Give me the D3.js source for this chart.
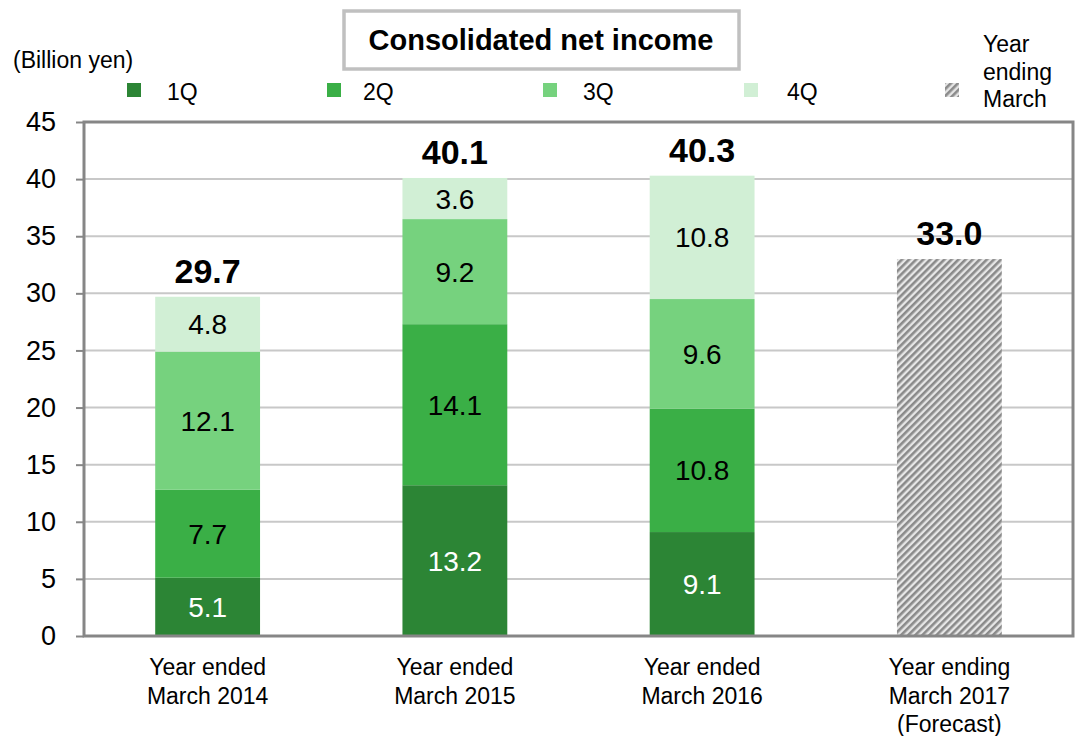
<!DOCTYPE html>
<html>
<head>
<meta charset="utf-8">
<script src="https://cdn.jsdelivr.net/npm/d3@7"></script>
<style>
  html, body { margin: 0; padding: 0; background: #fff; }
  svg { display: block; font-family: "Liberation Sans", Arial, sans-serif; }
</style>
</head>
<body>
<svg id="chart" width="1075" height="736"></svg>
<script>
// Fiscal years on the x axis (multi-line labels)
const years = ["Year ended|March 2014", "Year ended|March 2015", "Year ended|March 2016", "Year ending|March 2017|(Forecast)"];
const quarters = ["1Q", "2Q", "3Q", "4Q"];
// Quarterly net income (billion yen), for the three closed years
const q1 = [5.1, 13.2, 9.1];
const q2 = [7.7, 14.1, 10.8];
const q3 = [12.1, 9.2, 9.6];
const q4 = [4.8, 3.6, 10.8];
// Annual totals, the last one a forecast
const totals = [29.7, 40.1, 40.3, 33.0];
const yTicks = [0, 5, 10, 15, 20, 25, 30, 35, 40, 45];

const colors = ["#2c8535", "#3aaf46", "#76d27e", "#d1efd5"];
const labelColors = ["#ffffff", "#000000", "#000000", "#000000"];

const svg = d3.select("#chart");
const plot = { left: 84, right: 1073, top: 122, bottom: 636 };

const x = d3.scaleBand().domain(years).range([plot.left, plot.right]).paddingInner(0.576).paddingOuter(0.288);
const y = d3.scaleLinear().domain([0, 45]).range([plot.bottom, plot.top]);

// Hatch pattern for the forecast bar
const defs = svg.append("defs");
const pat = defs.append("pattern").attr("id", "hatch").attr("patternUnits", "userSpaceOnUse")
  .attr("width", 5).attr("height", 5).attr("patternTransform", "rotate(45)");
pat.append("rect").attr("width", 5).attr("height", 5).attr("fill", "#e6e6e6");
pat.append("rect").attr("width", 2.6).attr("height", 5).attr("fill", "#8a8a8a");

// Gridlines
svg.append("g").selectAll("line").data(yTicks.filter(d => d > 0 && d < 45)).join("line")
  .attr("x1", plot.left).attr("x2", plot.right)
  .attr("y1", d => y(d)).attr("y2", d => y(d))
  .attr("stroke", "#c8c8c8").attr("stroke-width", 2);

// Stacked quarter segments
const series = [q1, q2, q3, q4];
const stackData = years.slice(0, 3).map((yr, i) => {
  const o = { year: yr };
  quarters.forEach((q, k) => o[q] = series[k][i]);
  return o;
});
const stacked = d3.stack().keys(quarters)(stackData);

stacked.forEach((layer, k) => {
  const g = svg.append("g");
  g.selectAll("rect").data(layer).join("rect")
    .attr("x", d => x(d.data.year))
    .attr("width", x.bandwidth())
    .attr("y", d => y(d[1]))
    .attr("height", d => y(d[0]) - y(d[1]))
    .attr("fill", colors[k]);
  g.selectAll("text").data(layer).join("text")
    .attr("x", d => x(d.data.year) + x.bandwidth() / 2)
    .attr("y", d => (y(d[0]) + y(d[1])) / 2)
    .attr("dy", "0.36em")
    .attr("text-anchor", "middle")
    .attr("font-size", 28)
    .attr("fill", labelColors[k])
    .text(d => (d[1] - d[0]).toFixed(1));
});

// Forecast bar
svg.append("rect")
  .attr("x", x(years[3])).attr("width", x.bandwidth())
  .attr("y", y(totals[3])).attr("height", y(0) - y(totals[3]))
  .attr("fill", "url(#hatch)");

// Totals above bars
svg.append("g").selectAll("text").data(totals).join("text")
  .attr("x", (d, i) => x(years[i]) + x.bandwidth() / 2)
  .attr("y", d => y(d) - 14)
  .attr("text-anchor", "middle")
  .attr("font-size", 34).attr("font-weight", "bold")
  .text(d => d.toFixed(1));

// Plot frame
svg.append("rect")
  .attr("x", plot.left).attr("y", plot.top)
  .attr("width", plot.right - plot.left).attr("height", plot.bottom - plot.top)
  .attr("fill", "none").attr("stroke", "#868686").attr("stroke-width", 3);

// Y axis
const yAxis = svg.append("g").attr("transform", `translate(${plot.left},0)`)
  .call(d3.axisLeft(y).tickValues(yTicks).tickSize(8).tickPadding(20).tickFormat(d3.format("d")));
yAxis.select(".domain").remove();
yAxis.selectAll(".tick line").attr("stroke", "#868686").attr("stroke-width", 2);
yAxis.selectAll(".tick text").attr("font-size", 27).attr("fill", "#000")
  .attr("font-family", "Liberation Sans, Arial, sans-serif");

// X labels
years.forEach(yr => {
  const cx = x(yr) + x.bandwidth() / 2;
  const t = svg.append("text")
    .attr("x", cx).attr("y", 675)
    .attr("text-anchor", "middle").attr("font-size", 23);
  yr.split("|").forEach((line, i) => {
    t.append("tspan").attr("x", cx).attr("dy", i === 0 ? 0 : 28.5).text(line);
  });
});

// Title box
svg.append("rect").attr("x", 344).attr("y", 11).attr("width", 395).attr("height", 58)
  .attr("fill", "#fff").attr("stroke", "#c0c0c0").attr("stroke-width", 3.5);
svg.append("text").attr("x", 541).attr("y", 50).attr("text-anchor", "middle")
  .attr("font-size", 29).attr("font-weight", "bold").text("Consolidated net income");

// Unit label
svg.append("text").attr("x", 13).attr("y", 68).attr("font-size", 23).text("(Billion yen)");

// Legend
const legendX = [127, 327, 543, 744];
const legendTextX = [167, 363, 583, 787];
quarters.forEach((q, k) => {
  svg.append("rect").attr("x", legendX[k]).attr("y", 83).attr("width", 14).attr("height", 14).attr("fill", colors[k]);
  svg.append("text").attr("x", legendTextX[k]).attr("y", 100).attr("font-size", 23).text(q);
});
svg.append("rect").attr("x", 945).attr("y", 83).attr("width", 14).attr("height", 14).attr("fill", "url(#hatch)");
const lt = svg.append("text").attr("x", 983).attr("y", 52).attr("font-size", 23);
["Year", "ending", "March"].forEach((s, i) => lt.append("tspan").attr("x", 983).attr("dy", i === 0 ? 0 : 27.5).text(s));
</script>
</body>
</html>
